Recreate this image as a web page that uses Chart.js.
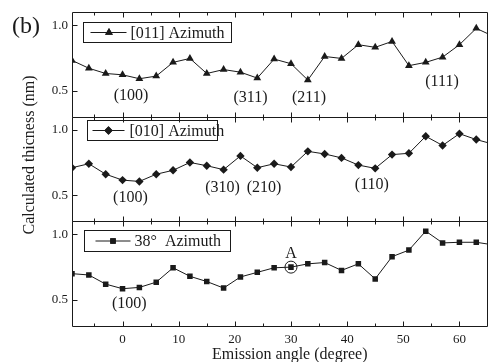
<!DOCTYPE html>
<html>
<head>
<meta charset="utf-8">
<script src="https://cdn.jsdelivr.net/npm/chart.js@4/dist/chart.umd.min.js"></script>
<style>
html,body{margin:0;padding:0;background:#fff;overflow:hidden;}
#wrap{width:492px;height:362px;}
</style>
</head>
<body>
<div id="wrap"><canvas id="c" width="492" height="362"></canvas></div>
<script>
// ---- data ----
const angles = [-9,-6,-3,0,3,6,9,12,15,18,21,24,27,30,33,36,39,42,45,48,51,54,57,60,63,66];
const az011 = [0.73,0.67,0.63,0.62,0.59,0.61,0.715,0.745,0.63,0.66,0.64,0.595,0.74,0.705,0.58,0.76,0.745,0.85,0.83,0.875,0.69,0.715,0.755,0.85,0.975,0.915];
const az010 = [0.71,0.74,0.66,0.615,0.605,0.66,0.69,0.75,0.725,0.695,0.80,0.71,0.74,0.715,0.835,0.815,0.785,0.73,0.705,0.81,0.82,0.95,0.88,0.97,0.925,0.89];
const az38  = [0.70,0.69,0.62,0.585,0.595,0.635,0.745,0.68,0.64,0.59,0.675,0.71,0.745,0.75,0.775,0.785,0.725,0.775,0.66,0.83,0.88,1.025,0.935,0.94,0.94,0.92];
const seriesNames = ['[011] Azimuth','[010] Azimuth','38\u00B0  Azimuth'];
const yTicks = [0.5, 1.0];
const xTickLabels = [0,10,20,30,40,50,60];
const xMinorTicks = [-5,5,15,25,35,45,55,65];
// annotation labels: [text, angle, thickness]
const notes011 = [['(100)',1.5,0.46],['(311)',22.8,0.448],['(211)',33.2,0.448],['(111)',56.9,0.564]];
const notes010 = [['(100)',1.4,0.482],['(310)',17.8,0.559],['(210)',25.2,0.559],['(110)',44.4,0.576]];
const notes38  = [['(100)',1.2,0.467],['A',30,0.85]];
const circledAngle = 30;

const FONT = "'Liberation Serif', 'DejaVu Serif', serif";
const INK = '#1a1a1a';

function mkY(){
  return {
    type:'linear', position:'left', stack:'panels', stackWeight:1,
    min:0.3, max:1.1,
    afterBuildTicks:s=>{ s.ticks = yTicks.map(v=>({value:v})); },
    afterFit:s=>{ s.width = 72; },
    grid:{display:false, drawTicks:false},
    border:{display:false},
    ticks:{padding:4, color:INK, font:{family:FONT,size:13}, callback:v=>Number(v).toFixed(1)}
  };
}

const panels = [
  {axis:'yTop', data:az011, style:'triangle', name:seriesNames[0], notes:notes011,
   box:{dx:11, dy:10, w:148, h:20, l0:7, l1:43, m:25.5, tx:47}},
  {axis:'yMid', data:az010, style:'rectRot', name:seriesNames[1], notes:notes010,
   box:{dx:15, dy:3.5, w:130, h:20, l0:5, l1:37, m:21, tx:42}},
  {axis:'yBot', data:az38, style:'rect', name:seriesNames[2], notes:notes38,
   box:{dx:12, dy:9, w:146, h:21, l0:11, l1:46, m:28.5, tx:50}}
];

function radiusFor(style){ return style==='rect'?3.9:(style==='rectRot'?4.2:4.5); }

function drawMarker(ctx, style, x, y){
  Chart.helpers.drawPoint(ctx, {pointStyle:style, radius: radiusFor(style), rotation:0}, x, y);
  ctx.fill();
}

const panelPlugin = {
  id:'panels',
  afterDraw(chart){
    const ctx = chart.ctx, xs = chart.scales.x, ca = chart.chartArea;
    ctx.save();
    ctx.strokeStyle = INK; ctx.fillStyle = INK; ctx.lineWidth = 1;
    const L = Math.round(ca.left)+0.5, R = Math.round(ca.right)-0.5;
    panels.forEach(p=>{
      const ys = chart.scales[p.axis];
      const T = Math.round(ys.top)+0.5, B = Math.round(ys.bottom)+0.5;
      ctx.beginPath();
      ctx.moveTo(L,T); ctx.lineTo(R,T); ctx.lineTo(R,B); ctx.lineTo(L,B); ctx.closePath();
      ctx.stroke();
      // x ticks top and bottom, inward
      ctx.beginPath();
      xTickLabels.concat(xMinorTicks).forEach(v=>{
        const px = Math.round(xs.getPixelForValue(v))+0.5;
        const len = (v%10===0)?5:3;
        ctx.moveTo(px,T); ctx.lineTo(px,T+len);
        ctx.moveTo(px,B); ctx.lineTo(px,B-len);
      });
      // y ticks
      yTicks.forEach(v=>{
        const py = Math.round(ys.getPixelForValue(v))+0.5;
        ctx.moveTo(L,py); ctx.lineTo(L+5,py);
      });
      ctx.stroke();
      // legend box
      const b = p.box;
      const bx = Math.round(ca.left + b.dx)+0.5, by = Math.round(ys.top + b.dy)+0.5;
      ctx.strokeRect(bx, by, b.w, b.h);
      const cy = by + b.h/2;
      ctx.beginPath(); ctx.moveTo(bx+b.l0, cy); ctx.lineTo(bx+b.l1, cy); ctx.stroke();
      drawMarker(ctx, p.style, bx+b.m, cy);
      ctx.font = '16px ' + FONT; ctx.textAlign='left'; ctx.textBaseline='middle';
      ctx.fillText(p.name, bx+b.tx, cy+1);
      // notes
      ctx.textAlign='center';
      p.notes.forEach(n=>{
        ctx.fillText(n[0], xs.getPixelForValue(n[1]), ys.getPixelForValue(n[2]));
      });
    });
    // circle around point A
    const yb = chart.scales.yBot;
    const idx = angles.indexOf(circledAngle);
    ctx.beginPath();
    ctx.arc(xs.getPixelForValue(circledAngle), yb.getPixelForValue(az38[idx]), 6, 0, Math.PI*2);
    ctx.stroke();
    // axis titles
    ctx.font = '16px ' + FONT; ctx.textAlign='center'; ctx.textBaseline='middle';
    ctx.fillText('Emission angle (degree)', (ca.left+ca.right)/2 + 10, 355);
    ctx.save();
    ctx.translate(30, 155); ctx.rotate(-Math.PI/2);
    ctx.fillText('Calculated thicness (nm)', 0, 0);
    ctx.restore();
    ctx.font = '24px ' + FONT;
    ctx.fillText('(b)', 26, 27);
    ctx.restore();
  }
};

const datasets = panels.map(p=>({
  label:p.name, yAxisID:p.axis,
  data: angles.map((a,i)=>({x:a, y:p.data[i]})),
  borderColor:INK, backgroundColor:INK, borderWidth:1,
  pointStyle:p.style, pointRadius: radiusFor(p.style),
  pointBorderWidth:0, tension:0
}));

new Chart(document.getElementById('c'), {
  type:'line',
  data:{datasets},
  options:{
    responsive:false, animation:false,
    layout:{padding:{top:12, left:0, right:0, bottom:0}},
    plugins:{legend:{display:false}, tooltip:{enabled:false}, title:{display:false}},
    scales:{
      x:{type:'linear', position:'bottom', min:-9, max:65,
         afterBuildTicks:s=>{ s.ticks = xTickLabels.map(v=>({value:v})); },
         afterFit:s=>{ s.height = 36; },
         grid:{display:false, drawTicks:false}, border:{display:false},
         ticks:{padding:6, color:INK, font:{family:FONT,size:13}}},
      yBot: mkY(),
      yMid: mkY(),
      yTop: mkY()
    }
  },
  plugins:[panelPlugin]
});
</script>
</body>
</html>
